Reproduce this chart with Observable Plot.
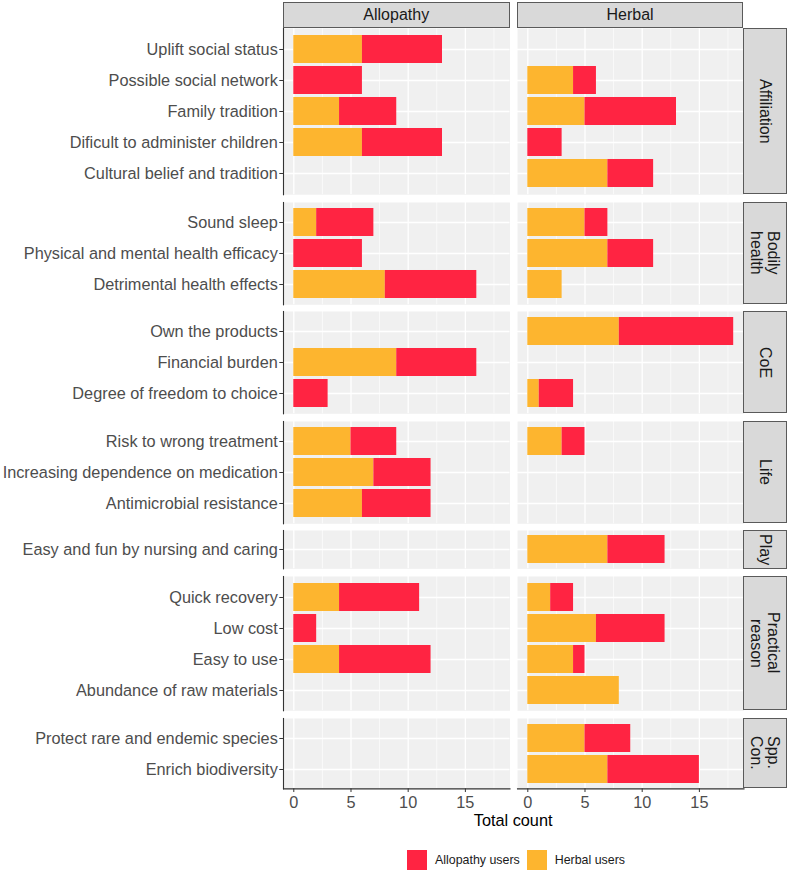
<!DOCTYPE html>
<html><head><meta charset="utf-8">
<script src="https://cdn.jsdelivr.net/npm/d3@7"></script>
<script src="https://cdn.jsdelivr.net/npm/@observablehq/plot@0.6"></script>
<style>
body{margin:0;background:#fff;font-family:"Liberation Sans",Arial,Helvetica,sans-serif;}
#chart{position:relative;width:789px;height:873px;overflow:hidden;}
#chart svg{position:absolute;}
.strip{position:absolute;box-sizing:border-box;background:#d9d9d9;border:1.1px solid #5a5a5a;color:#1a1a1a;font-size:16px;display:flex;align-items:center;justify-content:center;text-align:center;}
.vstrip{writing-mode:vertical-rl;line-height:17px;}
.xtitle{position:absolute;font-size:16.3px;color:#000;transform:translate(-50%,-50%);white-space:nowrap;}
.legend{position:absolute;display:flex;align-items:center;font-size:12.4px;color:#1a1a1a;}
.legend .sw{width:20px;height:20px;margin-right:8px;}
.legend .lab{margin-right:7px;}
</style></head><body><div id="chart"></div><script>
// ---------- data ----------
const ROWS = ["Affiliation","Bodily health","CoE","Life","Play","Practical reason","Spp. Con."];
const ROW_STRIPS = ["Affiliation","Bodily<br>health","CoE","Life","Play","Practical<br>reason","Spp.<br>Con."];
const CATEGORIES = [
  "Uplift social status","Possible social network","Family tradition","Dificult to administer children","Cultural belief and tradition",
  "Sound sleep","Physical and mental health efficacy","Detrimental health effects",
  "Own the products","Financial burden","Degree of freedom to choice",
  "Risk to wrong treatment","Increasing dependence on medication","Antimicrobial resistance",
  "Easy and fun by nursing and caring",
  "Quick recovery","Low cost","Easy to use","Abundance of raw materials",
  "Protect rare and endemic species","Enrich biodiversity"
];
const CATEGORY_ROW = [
  "Affiliation","Affiliation","Affiliation","Affiliation","Affiliation",
  "Bodily health","Bodily health","Bodily health",
  "CoE","CoE","CoE",
  "Life","Life","Life",
  "Play",
  "Practical reason","Practical reason","Practical reason","Practical reason",
  "Spp. Con.","Spp. Con."
];
const SYSTEMS = ["Allopathy","Herbal"];
const USER_TYPES = ["Allopathy users","Herbal users"];
const USER_COLORS = ["#FF2442","#FDB52F"];
// Allopathy panel
const ALLOPATHY_HERBAL_USERS    = [6,0,4,6,0, 2,0,8, 0,9,0, 5,7,6, 0, 4,0,4,0, 0,0];
const ALLOPATHY_ALLOPATHY_USERS = [7,6,5,7,0, 5,6,8, 0,7,3, 4,5,6, 0, 7,2,8,0, 0,0];
// Herbal panel
const HERBAL_HERBAL_USERS       = [0,4,5,0,7, 5,7,3, 8,0,1, 3,0,0, 7, 2,6,4,8, 5,7];
const HERBAL_ALLOPATHY_USERS    = [0,2,8,3,4, 2,4,0,10,0,3, 2,0,0, 5, 2,6,1,0, 4,8];
const X_TICKS = [0,5,10,15];
const X_MINOR = [2.5,7.5,12.5,17.5];
const X_DOMAIN = [-0.9,18.9];

// ---------- long table ----------
const series = {
  Allopathy: {"Herbal users": ALLOPATHY_HERBAL_USERS, "Allopathy users": ALLOPATHY_ALLOPATHY_USERS},
  Herbal:    {"Herbal users": HERBAL_HERBAL_USERS,    "Allopathy users": HERBAL_ALLOPATHY_USERS}
};
const table = [];
for (const s of SYSTEMS) CATEGORIES.forEach((c,i) => {
  for (const u of ["Herbal users","Allopathy users"]) table.push({system:s, cat:c, row:CATEGORY_ROW[i], user:u, value:series[s][u][i]});
});

// ---------- layout ----------
const FONT = '"Liberation Sans",Arial,Helvetica,sans-serif';
const TOP = 28, UNIT = 31.97, VGAP = 7.3;
const LEFT = 283, PW = 226.5, HGAP = 7.3;
const COLX = [LEFT, LEFT + PW + HGAP];
const STRIP_W = 43.7;
const chart = document.getElementById("chart");

let y0 = TOP;
ROWS.forEach((r, ri) => {
  const cats = CATEGORIES.filter((c,i) => CATEGORY_ROW[i] === r);
  const h = (cats.length + 0.2) * UNIT;
  const last = ri === ROWS.length - 1;
  SYSTEMS.forEach((s, si) => {
    const withY = si === 0;
    const mb = last ? 40 : 0;
    const marks = [
      Plot.frame({fill:"#f0f0f0", stroke:"none"}),
      Plot.gridX({ticks: X_MINOR, stroke:"white", strokeOpacity:1, strokeWidth:0.65}),
      Plot.gridX({ticks: X_TICKS, stroke:"white", strokeOpacity:1, strokeWidth:1.3}),
      Plot.gridY({stroke:"white", strokeOpacity:1, strokeWidth:1.3}),
      Plot.barX(table.filter(d => d.system === s && d.row === r), {x:"value", y:"cat", fill:"user"})
    ];
    if (withY) {
      marks.push(Plot.axisY({tickSize:3.7, tickPadding:2, fill:"#4d4d4d", stroke:"#333", label:null, fontSize:16.3}));
      marks.push(Plot.frame({anchor:"left", stroke:"#333", strokeWidth:1.1}));
    }
    if (last) {
      marks.push(Plot.axisX({ticks:X_TICKS, tickSize:3.7, tickPadding:4.3, fill:"#4d4d4d", stroke:"#333", label:null, fontSize:16.3}));
      marks.push(Plot.frame({anchor:"bottom", stroke:"#333", strokeWidth:1.1}));
    }
    const svg = Plot.plot({
      width: (withY ? LEFT : 0) + PW,
      height: h + mb,
      marginLeft: withY ? LEFT : 0, marginRight: 0, marginTop: 0, marginBottom: mb,
      x: {domain: X_DOMAIN, axis: null},
      y: {domain: cats, paddingInner: 0.1, paddingOuter: 0.15, axis: null},
      color: {domain: USER_TYPES, range: USER_COLORS},
      style: {background:"transparent", fontFamily: FONT, fontSize:"16.3px", overflow:"visible"},
      marks
    });
    svg.style.left = (withY ? 0 : COLX[si]) + "px";
    svg.style.top = y0 + "px";
    chart.appendChild(svg);
  });
  const st = document.createElement("div");
  st.className = "strip vstrip";
  st.style.left = (COLX[1] + PW) + "px";
  st.style.top = y0 + "px";
  st.style.width = STRIP_W + "px";
  st.style.height = h + "px";
  st.innerHTML = ROW_STRIPS[ri];
  chart.appendChild(st);
  y0 += h + VGAP;
});

// column strips
SYSTEMS.forEach((s, si) => {
  const st = document.createElement("div");
  st.className = "strip";
  st.style.left = COLX[si] + "px";
  st.style.top = "2px";
  st.style.width = PW + "px";
  st.style.height = (TOP - 2) + "px";
  st.textContent = s;
  chart.appendChild(st);
});

// x title
const xt = document.createElement("div");
xt.className = "xtitle";
xt.style.left = (LEFT + (2*PW + HGAP)/2) + "px";
xt.style.top = "820px";
xt.textContent = "Total count";
chart.appendChild(xt);

// legend
const lg = document.createElement("div");
lg.className = "legend";
lg.style.left = "407px";
lg.style.top = "850px";
USER_TYPES.forEach((u, i) => {
  const sw = document.createElement("div"); sw.className = "sw"; sw.style.background = USER_COLORS[i];
  const lab = document.createElement("div"); lab.className = "lab"; lab.textContent = u;
  lg.appendChild(sw); lg.appendChild(lab);
});
chart.appendChild(lg);
</script></body></html>
